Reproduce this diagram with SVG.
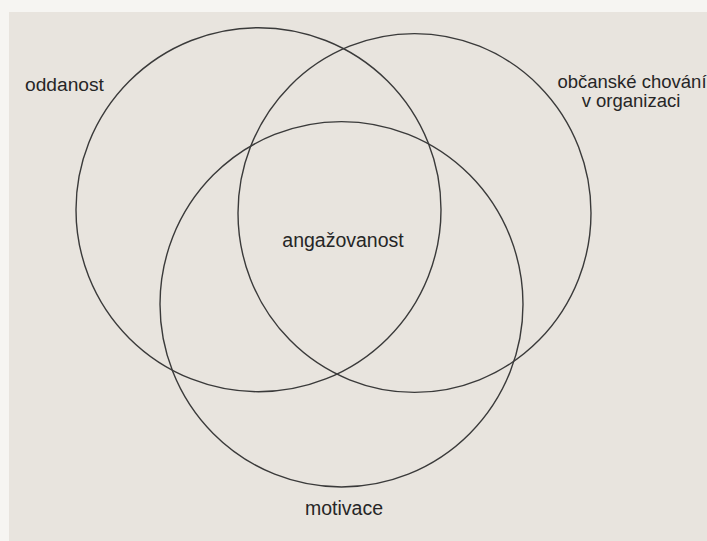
<svg xmlns="http://www.w3.org/2000/svg" width="707" height="541" viewBox="0 0 707 541">
<style>
.c{fill:none;stroke:#3a3a3a;stroke-width:1.4}
.t{font-family:"Liberation Sans",Arial,sans-serif;font-size:19.5px;fill:#262626}
</style>
<rect width="707" height="541" fill="#f6f5f2"/>
<rect x="9" y="12" width="698" height="529" fill="#e8e4de"/>
<g id="oddanost">
<ellipse class="c" cx="258.5" cy="209.7" rx="182.5" ry="182"/>
<text class="t" x="25" y="91" style="font-size:19.2px">oddanost</text>
</g>
<g id="obcanske-chovani">
<ellipse class="c" cx="414.5" cy="213" rx="176.5" ry="179.4"/>
<text class="t" x="632" y="88" text-anchor="middle" style="font-size:18.5px">občanské chování</text>
<text class="t" x="631" y="107" text-anchor="middle" style="font-size:18.5px">v organizaci</text>
</g>
<g id="motivace">
<ellipse class="c" cx="341.5" cy="304.3" rx="181.5" ry="182.7"/>
<text class="t" x="344" y="515" text-anchor="middle">motivace</text>
</g>
<g id="angazovanost">
<text class="t" x="343" y="247" text-anchor="middle">angažovanost</text>
</g>
<g id="connectors"/>
</svg>
